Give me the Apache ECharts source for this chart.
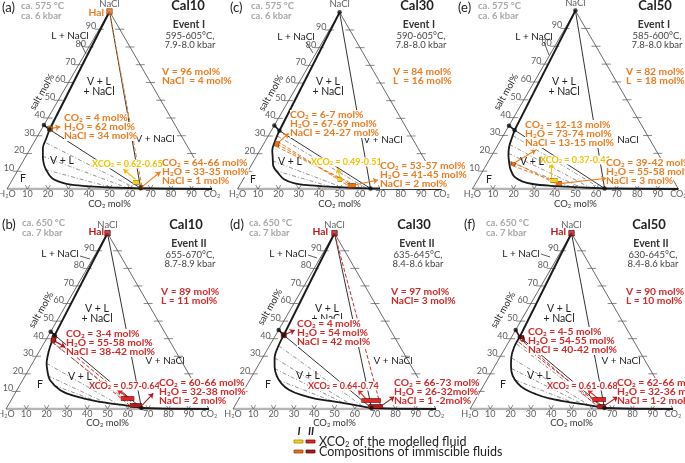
<!DOCTYPE html>
<html><head><meta charset="utf-8">
<script src="https://cdn.jsdelivr.net/npm/echarts@6/dist/echarts.min.js"></script>
<style>html,body{margin:0;padding:0;background:#fff}#c{width:685px;height:463px}</style>
</head><body><div id="c"></div>
<script>
// ---------------- DATA ----------------
// panel order: a, c, e (top row, Event I) ; b, d, f (bottom row, Event II)
const panelLetters   = ['(a)','(c)','(e)','(b)','(d)','(f)'];
const sampleNames    = ['Cal10','Cal30','Cal50','Cal10','Cal30','Cal50'];
const eventNames     = ['Event I','Event I','Event I','Event II','Event II','Event II'];
const modelTemps     = ['595-605°C,','590-605°C,','585-600°C,','655-670°C,','635-645°C,','630-645°C,'];
const modelPressures = ['7.9-8.0 kbar','7.8-8.0 kbar','7.8-8.0 kbar','8.7-8.9 kbar','8.4-8.6 kbar','8.4-8.6 kbar'];
const refTemps       = ['ca. 575 °C','ca. 575 °C','ca. 575 °C','ca. 650 °C','ca. 650 °C','ca. 650 °C'];
const refPressures   = ['ca. 6 kbar','ca. 6 kbar','ca. 6 kbar','ca. 7 kbar','ca. 7 kbar','ca. 7 kbar'];
const bulkLine1      = ['V = 96 mol%','V = 84 mol%','V = 82 mol%','V ≈ 89 mol%','V = 97 mol%','V = 90 mol%'];
const bulkLine2      = ['NaCl  = 4 mol%','L  = 16 mol%','L  = 18 mol%','L ≈ 11 mol%','NaCl= 3 mol%','L = 10 mol%'];
const liquidTexts = [
  ['CO2 = 4 mol%','H2O = 62 mol%','NaCl = 34 mol%'],
  ['CO2 = 6-7 mol%','H2O = 67-69 mol%','NaCl = 24-27 mol%'],
  ['CO2 = 12-13 mol%','H2O = 73-74 mol%','NaCl = 13-15 mol%'],
  ['CO2 = 3-4 mol%','H2O = 55-58 mol%','NaCl = 38-42 mol%'],
  ['CO2 = 4 mol%','H2O = 54 mol%','NaCl = 42 mol%'],
  ['CO2 = 4-5 mol%','H2O = 54-55 mol%','NaCl = 40-42 mol%']];
const vapourTexts = [
  ['CO2 = 64-66 mol%','H2O = 33-35 mol%','NaCl = 1 mol%'],
  ['CO2 = 53-57 mol%','H2O = 41-45 mol%','NaCl = 2 mol%'],
  ['CO2 = 39-42 mol%','H2O = 55-58 mol%','NaCl = 3 mol%'],
  ['CO2 = 60-66 mol%','H2O = 32-38 mol%','NaCl = 2 mol%'],
  ['CO2 = 66-73 mol%','H2O = 26-32mol%','NaCl = 1 -2mol%'],
  ['CO2 = 62-66 mol%','H2O = 32-36 mol%','NaCl = 1-2 mol%']];
const xco2Ranges   = [[0.62,0.65],[0.49,0.51],[0.37,0.41],[0.57,0.64],[0.64,0.74],[0.61,0.68]];
const xco2BarNaCl  = [4, 5.5, 5, 6, 5, 5.5];
// compositions [CO2, NaCl] (ends of range)
const liquidComp = [[[4,34],[4,34]],[[6,27],[7,24]],[[12.5,15],[13,13]],[[3,42],[4,38]],[[4,42],[4,42]],[[4,42],[5,40]]];
const vapourComp = [[[64,0.8],[66,0.8]],[[53,2],[57,2]],[[39,3],[42,3]],[[60,2],[66,2]],[[66,1.5],[73,1.5]],[[62,1.5],[66,1.5]]];
const halitePanels = [true,false,false,true,true,true];
// phase diagram geometry [CO2, NaCl]
const binarySaturation = [36, 36, 35.5, 44, 45, 45];
const threePhaseL = [[4,33.5],[4,33],[4,33],[3,42],[4,42],[4,41]];
const threePhaseV = [[65,0.4],[65,0.3],[64,0.3],[66.5,0.5],[68,0.5],[66,0.5]];
const solvusCurves = [
  [[4,33.5],[5,28],[6,23],[8.5,18],[11,14],[13.5,11],[19,6],[27,3],[36,1.8],[44,1.2],[55,0.7],[65,0.4]],
  [[4,33],[4.8,27],[6,22],[8.2,18],[11,13],[15.4,9],[20,5.5],[26.4,3.2],[35,2],[43.7,1.3],[55,0.7],[65,0.3]],
  [[4,33],[5,28],[6,23.7],[8,19],[10.7,14.4],[13,11],[16.9,6.9],[22,4.3],[27.9,2.8],[37,1.8],[50,1],[64,0.3]],
  [[3,42],[4,35.4],[5.5,30],[7,26],[10,21],[13.4,16.5],[21.2,10.8],[28,8],[35,6.1],[42,4.5],[49.6,3.2],[58,2],[66.5,0.5]],
  [[4,42],[4.5,35.4],[6,29],[8.5,24],[12,19],[16.5,14.6],[22,11],[29.6,8],[38,5.8],[48,4.2],[57,2.6],[68,0.5]],
  [[4,41],[4.1,35.4],[5.8,29],[8.2,24],[11.5,19],[16.2,14.6],[21.5,11.2],[28.3,8.4],[36,6],[45.2,4.2],[55,2.6],[66,0.5]]];
const greyTieLines = [
  [[[6,26],[62,0.6]],[[8,18.5],[58,0.8]],[[13,11],[50,1]]],
  [[[4.5,30],[63,0.4]],[[9,16],[50,1.2]],[[13,10.5],[45,1.3]]],
  [[[4.5,30],[62,0.4]],[[5.5,25],[57,0.6]],[[7.5,20],[52,0.9]],[[10,15.5],[47,1.2]]],
  [[[3.5,38],[63,1]],[[7,26],[56,1.6]],[[11,19],[50,2.4]],[[17,13.5],[45,3.5]]],
  [[[4.5,36],[64,1]],[[6,29],[58,2]],[[9,23],[54,2.8]],[[14,16.5],[48,4]]],
  [[[4.5,37],[63,1.2]],[[6,29],[58,2]],[[9,23],[54,2.8]],[[14,16.5],[48,4]]]];
const colouredTieLines = [
  [[[0,100],[65.5,0.8]]],
  [[[6,27],[53,2]],[[6.5,25.5],[55,2]],[[7,24],[57,2]]],
  [[[12.5,15],[39,3]],[[13,13],[42,3]]],
  [[[4,38],[60,2]],[[3.5,40],[63,2]]],
  [[[0,100],[72,1.5]]],
  [[[4.5,40],[62,1.5]],[[5,38],[64,1.5]]]];
// annotation arrows [from, to] in [CO2, NaCl]
const liquidArrows = [[[4,34],[8.5,35]],[[6.5,25.5],[9.3,31.5]],[[12.5,14],[19.9,21.9]],[[4,39],[11.6,35.1]],[[4,42],[8,44.9]],[[4.5,41],[8.3,37.8]]];
const vapourArrows = [[[65,0.8],[70,9.7]],[[55,2],[66.3,5.1]],[[41,3],[61.9,6]],[[66,2],[68.1,8.9]],[[72,1.5],[76,7]],[[65,1.5],[69.3,7]]];
const xco2Arrows   = [[[60,5.5],[51.2,11.1]],[[47,6.5],[43,11.7]],[[35.5,6],[31.3,14.4]],[[57,6.5],[49.4,10.8]],[[63,5.5],[56.2,10.8]],[[60,6],[52.6,10.8]]];
const tickValues = [10,20,30,40,50,60,70,80,90];
const legendRows = ['XCO2 of the modelled fluid','Compositions of immiscible fluids'];
const legendHeads = ['I','II'];

// ---------------- LAYOUT ----------------
const frameX0  = [7, 237.6, 472.4, 6, 233, 470];
const frameW   = [205, 204, 206, 203, 203, 203];
const frameBase= [189, 189, 189, 409, 409, 409];
const cellX = [0,228,456,0,228,456], cellY=[0,0,0,200,200,200];
const posLetter = [[2,8],[2,8],[2,8],[2,25],[2,25],[8,25]];
const posRef    = [[21,6],[23,6],[22,6],[22,23],[21,23],[30,23]];
const posTitle  = [[188,6],[189,6],[199,6],[186,25],[186,25],[193,25]];
const posEvent  = [[189,25],[191,25],[198,25],[189,44],[189,44],[195,44]];
const posCond   = [[190,36],[193,36],[201,36],[190,55],[190,55],[197,55]];
const posBulk   = [[162,72],[165,72],[170,72],[161,92],[163,92],[170,92]];
const posLNaCl  = [[70,36],[68,37],[78,37],[60,54],[60,54],[65,54]];
const leaders   = [[[80,42],[86,54]],[[78,42],[85,53]],[[88,42],[93,55]],[[80,56],[90,59]],[[80,55],[89,58]],[[85,54],[94,57]]];
const posVLNaCl = [[99,82],[100,82],[108,82],[97,109],[99,109],[103,109]];
const posVNaCl  = [[155,139],[155,140],[163,140],[165,161],[165,161],[165,161]];
const posVL     = [[62,161],[62,162],[76,162],[80,177],[80,176],[83,176]];
const posF      = [[23,179],[25,180],[33,180],[40,185],[40,185],[47,185]];
const posSalt   = [[42,92],[43,93],[50,92],[41,110],[42,107],[47,110]];
const posLText  = [[64,118],[62,115],[69,125],[66,134],[69,124],[72,132]];
const posVText  = [[162,163],[152,166],[150,163],[159,183],[166,183],[161,183]];
const posXText  = [[92,164],[83,162],[84,160],[89,186],[80,186],[91,186]];
const posHal    = [[104,13],null,null,[104,32],[100,32],[110,32]];

const FONT = 'Lato, "Open Sans", sans-serif';
const ORANGE='#EE7D22', YELLOW='#F5C000', RED='#D42A2A';
const BAR_Y='#F7D417', BAR_YB='#9A7A00', BAR_O='#E8731C', BAR_OB='#7A3A00';
const BAR_R='#E32626', BAR_RB='#700000', BAR_D='#B01C1C', BAR_DB='#4A0000';
const ANN = 10.3;   // annotation font size
const XANN = 9;
const REG = 10;
const W3 = Math.sqrt(3)/2;
function tern(c, n){ return [c + n/2, n*W3]; }
function subs(s){ return s.replace(/CO2/g,'CO{s|2}').replace(/H2O/g,'H{s|2}O'); }
function richFor(color, size, weight){
  return { s:{fontSize:size*0.62, fill:color, color:color, fontWeight:weight, fontFamily:FONT, verticalAlign:'bottom', lineHeight:size*0.75} };
}

const option = {animation:false, grid:[], xAxis:[], yAxis:[], series:[], graphic:[]};
const G = option.graphic;
function txt(x,y,text,o){
  o=o||{};
  const size=o.size||10, color=o.color||'#222', weight=o.weight||'normal';
  const el={type:'text', x:x, y:y, z:o.z||100, rotation:o.rot||0, style:{
    text:subs(text), fill:color, fontSize:size, fontWeight:weight, fontStyle:o.style||'normal', fontFamily:FONT,
    align:o.align||'left', verticalAlign:'middle', textAlign:o.align||'left', textVerticalAlign:'middle',
    rich:richFor(color,size,weight)}};
  if(o.bg){el.style.backgroundColor='#fff'; el.style.padding=[0,0];}
  G.push(el);
}
function addLines(i, paths, style, extra){
  option.series.push(Object.assign({type:'lines', coordinateSystem:'cartesian2d', xAxisIndex:i, yAxisIndex:i,
    polyline:true, silent:true, z:2, lineStyle:Object.assign({opacity:1, width:1, color:'#222'}, style),
    data:paths.map(p=>({coords:p.map(q=>tern(q[0],q[1]))}))}, extra||{}));
}
function addArrow(i, a, color){
  option.series.push({type:'lines', coordinateSystem:'cartesian2d', xAxisIndex:i, yAxisIndex:i, silent:true, z:6,
    symbol:['none','arrow'], symbolSize:5, lineStyle:{opacity:1, width:1.1, color:color},
    data:[{coords:[tern(a[0][0],a[0][1]), tern(a[1][0],a[1][1])]}]});
}
function addBar(i, p1, p2, fill, border, w){
  if(p1[0]===p2[0] && p1[1]===p2[1]){
    option.series.push({type:'scatter', xAxisIndex:i, yAxisIndex:i, silent:true, z:7, symbol:'rect', symbolSize:5,
      itemStyle:{color:fill, borderColor:border, borderWidth:0.8}, data:[tern(p1[0],p1[1])]});
    return;
  }
  addLines(i,[[p1,p2]],{width:w+1.6,color:border,cap:'butt'},{z:7,polyline:false});
  addLines(i,[[p1,p2]],{width:w,color:fill,cap:'butt'},{z:8,polyline:false});
}
function addPoints(i, pts, color, size, symbol, border){
  option.series.push({type:'scatter', xAxisIndex:i, yAxisIndex:i, silent:true, z:9, symbol:symbol||'circle', symbolSize:size,
    itemStyle:{color:color, borderColor:border||color, borderWidth:border?0.8:0}, data:pts.map(p=>tern(p[0],p[1]))});
}
function addLabels(i, pts, texts, lab){
  const fs = (lab && lab.fontSize) || 9;
  option.series.push({type:'scatter', xAxisIndex:i, yAxisIndex:i, silent:true, symbolSize:0, z:10,
    data:pts.map((p,k)=>({value:tern(p[0],p[1]), label:{formatter:subs(texts[k])}})),
    label:Object.assign({show:true, color:'#333', fontSize:fs, fontFamily:FONT, rich:richFor('#333',fs,'normal')}, lab)});
}

for(let i=0;i<6;i++){
  const H=frameW[i]*W3;
  const ev2 = i>=3;
  option.grid.push({left:frameX0[i], top:frameBase[i]-H, width:frameW[i], height:H, show:false});
  option.xAxis.push({gridIndex:i, type:'value', min:0, max:100, show:false});
  option.yAxis.push({gridIndex:i, type:'value', min:0, max:100*W3, show:false});
  const ox=cellX[i], oy=cellY[i];
  const txtCol = ev2?RED:ORANGE;
  // triangle
  addLines(i,[[[0,0],[100,0]]],{width:2.6,color:'#B4B4B4'},{z:1});
  addLines(i,[[[0,0],[0,100],[100,0]]],{width:0.8,color:'#444'},{z:1});
  // ticks
  const tk=[];
  tickValues.forEach(v=>{
    tk.push([[v-2.2,2.2],[v,0],[v,2.2]]);          // bottom "v"
    tk.push([[-2.2,v],[2.2,v]]);                   // left cross
    tk.push([[100-v-2.2,v],[100-v+2.2,v]]);        // right cross
  });
  addLines(i,tk,{width:0.7,color:'#555'},{z:1});
  // tick labels
  addLabels(i,tickValues.map(v=>[v,0]),tickValues.map(String),{position:'bottom',distance:1});
  addLabels(i,[[0,0],[100,0]],['H2O','CO2'],{position:'bottom',distance:1});
  addLabels(i,tickValues.map(v=>[0,v]),tickValues.map(String),{position:'left',distance:3,offset:[0,-3]});
  addLabels(i,[[0,100]],['NaCl'],{position:'top',distance:3,fontSize:9.5});
  // phase boundaries
  addLines(i,[[[0,100],threePhaseL[i]]],{width:2,color:'#1a1a1a'},{z:3});
  addLines(i,[[[0,binarySaturation[i]],threePhaseL[i]]],{width:1.6,color:'#1a1a1a'},{z:3});
  addLines(i,[[[0,100],threePhaseV[i]],[threePhaseL[i],threePhaseV[i]]],{width:1,color:'#333'},{z:3});
  addLines(i,[[threePhaseV[i],[80,0.15],[100,0]]],{width:2,color:'#1a1a1a'},{z:3});
  option.series.push({type:'line', xAxisIndex:i, yAxisIndex:i, silent:true, z:3, showSymbol:false, smooth:0.35,
    lineStyle:{width:1.8,color:'#1a1a1a'}, data:solvusCurves[i].map(p=>tern(p[0],p[1]))});
  addLines(i,greyTieLines[i],{width:0.8,color:'#777',type:[4,2,1,2]},{z:2});
  addLines(i,colouredTieLines[i],{width:1,color:txtCol,type:[4,2]},{z:4});
  addPoints(i,[[0,binarySaturation[i]],threePhaseL[i],threePhaseV[i]],'#111',4.5);
  if(halitePanels[i]) addPoints(i,[[0,100]],ev2?BAR_D:BAR_O,5.5,'rect',ev2?BAR_DB:BAR_OB);
  else addPoints(i,[[0,100]],'#111',4.5);
  // compositions & modelled XCO2
  addBar(i,liquidComp[i][0],liquidComp[i][1],ev2?BAR_D:BAR_O,ev2?BAR_DB:BAR_OB,3.5);
  addBar(i,vapourComp[i][0],vapourComp[i][1],ev2?BAR_D:BAR_O,ev2?BAR_DB:BAR_OB,3);
  const n=xco2BarNaCl[i];
  addBar(i,[xco2Ranges[i][0]*(100-n),n],[xco2Ranges[i][1]*(100-n),n],ev2?BAR_R:BAR_Y,ev2?BAR_RB:BAR_YB,3);
  addArrow(i,liquidArrows[i],ev2?BAR_D:ORANGE);
  addArrow(i,vapourArrows[i],ev2?BAR_D:ORANGE);
  addArrow(i,xco2Arrows[i],ev2?BAR_R:YELLOW);
  // texts
  txt(ox+posLetter[i][0],oy+posLetter[i][1],panelLetters[i],{size:13});
  txt(ox+posRef[i][0],oy+posRef[i][1],refTemps[i],{size:9.5,color:'#A8A8A8',weight:'bold'});
  txt(ox+posRef[i][0],oy+posRef[i][1]+10,refPressures[i],{size:9.5,color:'#A8A8A8',weight:'bold'});
  txt(ox+posTitle[i][0],oy+posTitle[i][1],sampleNames[i],{size:13,weight:'bold',align:'center'});
  txt(ox+posEvent[i][0],oy+posEvent[i][1],eventNames[i],{size:10.5,weight:'bold',align:'center',color:'#333'});
  txt(ox+posCond[i][0],oy+posCond[i][1],modelTemps[i],{size:9.5,align:'center',color:'#444'});
  txt(ox+posCond[i][0],oy+posCond[i][1]+9,modelPressures[i],{size:9.5,align:'center',color:'#444'});
  txt(ox+posBulk[i][0],oy+posBulk[i][1],bulkLine1[i],{size:ANN,weight:'bold',color:txtCol});
  txt(ox+posBulk[i][0],oy+posBulk[i][1]+9,bulkLine2[i],{size:ANN,weight:'bold',color:txtCol});
  txt(ox+posLNaCl[i][0],oy+posLNaCl[i][1],'L + NaCl',{size:REG,align:'center'});
  G.push({type:'line', z:100, shape:{x1:ox+leaders[i][0][0],y1:oy+leaders[i][0][1],x2:ox+leaders[i][1][0],y2:oy+leaders[i][1][1]}, style:{stroke:'#333',lineWidth:0.8}});
  txt(ox+posVLNaCl[i][0],oy+posVLNaCl[i][1],'V + L',{size:REG+0.5,align:'center'});
  txt(ox+posVLNaCl[i][0],oy+posVLNaCl[i][1]+10,'+ NaCl',{size:REG+0.5,align:'center'});
  txt(ox+posVNaCl[i][0],oy+posVNaCl[i][1],'V + NaCl',{size:REG,align:'center'});
  txt(ox+posVL[i][0],oy+posVL[i][1],'V + L',{size:REG+0.5,align:'center'});
  txt(ox+posF[i][0],oy+posF[i][1],'F',{size:REG+0.5,align:'center'});
  txt(ox+posSalt[i][0],oy+posSalt[i][1],'salt mol%',{size:9.5,align:'center',rot:Math.PI/3});
  txt(ox+posXText[i][0],oy+posXText[i][1],'X'+'CO2 = '+xco2Ranges[i].map(v=>v.toFixed(2)).join('-'),{size:XANN,weight:'bold',color:ev2?RED:YELLOW,bg:true,z:98});
  liquidTexts[i].forEach((t,k)=>txt(ox+posLText[i][0],oy+posLText[i][1]+k*9,t,{size:ANN,weight:'bold',color:txtCol,bg:true}));
  vapourTexts[i].forEach((t,k)=>txt(ox+posVText[i][0],oy+posVText[i][1]+k*9,t,{size:ANN,weight:'bold',color:txtCol,bg:true}));
  if(halitePanels[i]) txt(ox+posHal[i][0],oy+posHal[i][1],'Hal',{size:ANN,weight:'bold',color:ev2?'#C0161C':ORANGE,align:'right'});
  txt(frameX0[i]+frameW[i]/2, frameBase[i]+(ev2?14:15),'CO2 mol%',{size:9.5,align:'center',color:'#333'});
}
// legend
txt(299,431,legendHeads[0],{size:11,weight:'bold',style:'italic',align:'center'});
txt(311,431,legendHeads[1],{size:11,weight:'bold',style:'italic',align:'center'});
[[BAR_Y,BAR_YB,BAR_R,BAR_RB],[BAR_O,BAR_OB,BAR_D,BAR_DB]].forEach((c,r)=>{
  const y=440+r*10;
  G.push({type:'rect',z:100,shape:{x:294,y:y,width:9,height:3},style:{fill:c[0],stroke:c[1],lineWidth:0.7}});
  G.push({type:'rect',z:100,shape:{x:306,y:y,width:9,height:3},style:{fill:c[2],stroke:c[3],lineWidth:0.7}});
  txt(319,y+1.5,legendRows[r],{size:12.5,color:'#222'});
});

const chart = echarts.init(document.getElementById('c'),null,{renderer:'canvas'});
chart.setOption(option);
</script></body></html>
